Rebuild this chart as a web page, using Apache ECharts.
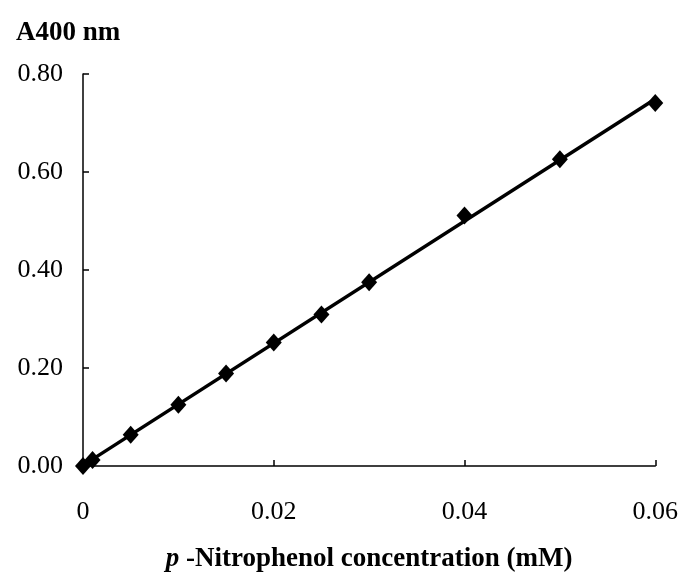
<!DOCTYPE html>
<html>
<head>
<meta charset="utf-8">
<script src="https://cdn.jsdelivr.net/npm/echarts@6/dist/echarts.min.js"></script>
<style>html,body{margin:0;padding:0;background:#fff;}#c{width:681px;height:578px;}</style>
</head>
<body>
<div id="c"></div>
<script>
const concentration = [0, 0.001, 0.005, 0.01, 0.015, 0.02, 0.025, 0.03, 0.04, 0.05, 0.06];
const absorbance = [0.000, 0.012, 0.064, 0.125, 0.189, 0.252, 0.309, 0.375, 0.511, 0.626, 0.741];
const yTitle = 'A400 nm';
const xTitleItalic = 'p';
const xTitleRest = ' -Nitrophenol concentration (mM)';

// least-squares trend line from data
const n = concentration.length;
const mx = concentration.reduce((a,b)=>a+b,0)/n;
const my = absorbance.reduce((a,b)=>a+b,0)/n;
let sxy=0, sxx=0;
for(let i=0;i<n;i++){sxy+=(concentration[i]-mx)*(absorbance[i]-my);sxx+=(concentration[i]-mx)**2;}
const slope = sxy/sxx, icpt = my - slope*mx;
const xMin = Math.min(...concentration), xMax = Math.max(...concentration);
const trend = [[xMin, Math.max(0, icpt + slope*xMin)], [xMax, icpt + slope*xMax]];

const font = 'Liberation Serif';
const chart = echarts.init(document.getElementById('c'), null, {renderer:'canvas'});
chart.setOption({
  animation:false,
  backgroundColor:'#fff',
  title:{text:yTitle,left:11,top:15,textStyle:{fontFamily:font,fontWeight:'bold',fontSize:27,color:'#000'}},
  grid:{left:83,right:25,top:74,bottom:108,containLabel:false},
  xAxis:{type:'value',min:0,max:0.06,interval:0.02,
    axisLine:{lineStyle:{color:'#000',width:1.5}},
    axisTick:{inside:true,length:6,lineStyle:{color:'#000',width:1.5}},
    splitLine:{show:false},
    axisLabel:{margin:33,fontFamily:font,fontSize:26,color:'#000',formatter:v=>v===0?'0':v.toFixed(2)},
    name:'{i|'+xTitleItalic+'}{b|'+xTitleRest+'}',nameLocation:'middle',nameGap:80,
    nameTextStyle:{rich:{i:{fontFamily:font,fontWeight:'bold',fontStyle:'italic',fontSize:27,color:'#000'},b:{fontFamily:font,fontWeight:'bold',fontSize:27,color:'#000'}}}
  },
  yAxis:{type:'value',min:0,max:0.8,interval:0.2,
    axisLine:{show:true,lineStyle:{color:'#000',width:1.5}},
    axisTick:{show:true,inside:true,length:6,lineStyle:{color:'#000',width:1.5}},
    splitLine:{show:false},
    axisLabel:{margin:20,fontFamily:font,fontSize:26,color:'#000',formatter:v=>v.toFixed(2)}
  },
  series:[
    {type:'line',data:trend,symbol:'none',lineStyle:{color:'#000',width:3.5},z:2},
    {type:'scatter',data:concentration.map((x,i)=>[x,absorbance[i]]),symbol:'diamond',symbolSize:[16,18],itemStyle:{color:'#000',opacity:1},z:3}
  ]
});
</script>
</body>
</html>
